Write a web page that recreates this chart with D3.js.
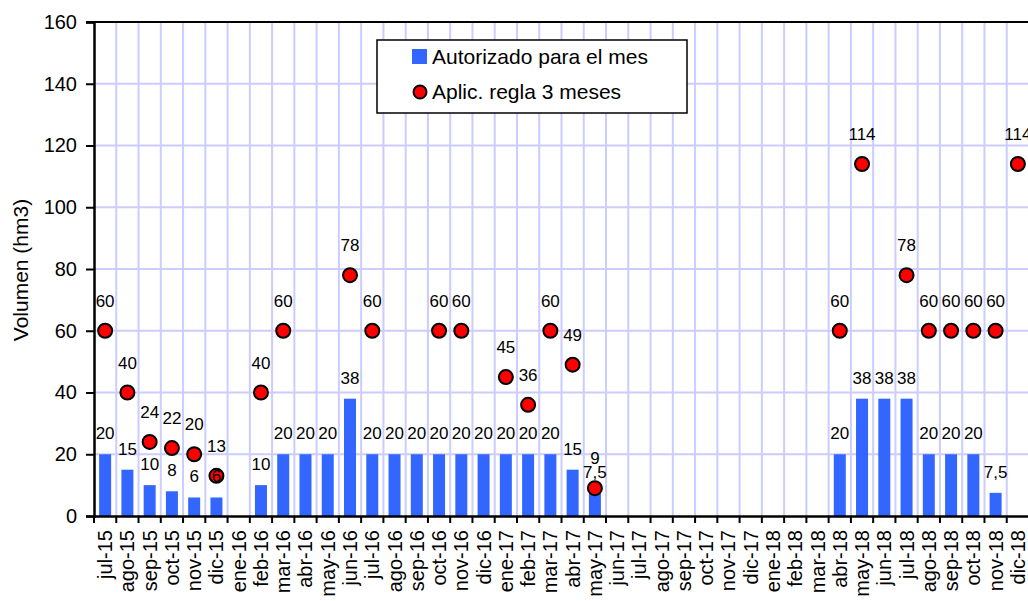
<!DOCTYPE html>
<html>
<head>
<meta charset="utf-8">
<script src="https://d3js.org/d3.v7.min.js"></script>
<style>
  body { margin: 0; background: #fff; }
  text { font-family: "Liberation Sans", Arial, sans-serif; fill: #000; }
</style>
</head>
<body>
<div id="chart"></div>
<script>
var months = ["jul-15","ago-15","sep-15","oct-15","nov-15","dic-15",
  "ene-16","feb-16","mar-16","abr-16","may-16","jun-16","jul-16","ago-16","sep-16","oct-16","nov-16","dic-16",
  "ene-17","feb-17","mar-17","abr-17","may-17","jun-17","jul-17","ago-17","sep-17","oct-17","nov-17","dic-17",
  "ene-18","feb-18","mar-18","abr-18","may-18","jun-18","jul-18","ago-18","sep-18","oct-18","nov-18","dic-18"];

// Autorizado para el mes (null = sin barra)
var autorizado = [20,15,10,8,6,6,
  null,10,20,20,20,38,20,20,20,20,20,20,
  20,20,20,15,7.5,null,null,null,null,null,null,null,
  null,null,null,20,38,38,38,20,20,20,7.5,null];

// Aplic. regla 3 meses
var regla3 = [60,40,24,22,20,13,
  null,40,60,null,null,78,60,null,null,60,60,null,
  45,36,60,49,9,null,null,null,null,null,null,null,
  null,null,null,60,114,null,78,60,60,60,60,114];

var yTicks = [0,20,40,60,80,100,120,140,160];

var margin = {top: 22, left: 94},
    width = 935,
    height = 494,
    svg = d3.select("#chart").append("svg").attr("width", 1028).attr("height", 601),
    g = svg.append("g").attr("transform", "translate(" + margin.left + "," + margin.top + ")");

var x = d3.scaleBand().domain(months).range([0, width]);
var y = d3.scaleLinear().domain([0, 160]).range([height, 0]);

var fmt = function(v) { return String(v).replace(".", ","); };

var bars = months.map(function(m, i) { return {m: m, v: autorizado[i]}; }).filter(function(d) { return d.v != null; });
var pts = months.map(function(m, i) { return {m: m, v: regla3[i]}; }).filter(function(d) { return d.v != null; });

// grid
g.append("g").selectAll("line")
  .data(yTicks.slice(1, -1))
  .enter().append("line")
    .attr("x1", 0).attr("x2", width)
    .attr("y1", function(d) { return y(d); }).attr("y2", function(d) { return y(d); })
    .attr("stroke", "#ccccff").attr("stroke-width", 2);

g.append("g").selectAll("line")
  .data(months.slice(1))
  .enter().append("line")
    .attr("x1", function(d) { return x(d); }).attr("x2", function(d) { return x(d); })
    .attr("y1", 0).attr("y2", height)
    .attr("stroke", "#ccccff").attr("stroke-width", 2);

// bars
var bw = 12;
g.append("g").selectAll("rect")
  .data(bars)
  .enter().append("rect")
    .attr("x", function(d) { return x(d.m) + x.bandwidth() / 2 - bw / 2; })
    .attr("y", function(d) { return y(d.v); })
    .attr("width", bw)
    .attr("height", function(d) { return height - y(d.v); })
    .attr("fill", "#3366ff");

// markers
g.append("g").selectAll("circle")
  .data(pts)
  .enter().append("circle")
    .attr("cx", function(d) { return x(d.m) + x.bandwidth() / 2; })
    .attr("cy", function(d) { return y(d.v); })
    .attr("r", 7)
    .attr("fill", "#ff0000")
    .attr("stroke", "#000")
    .attr("stroke-width", 2);

// labels
g.append("g").selectAll("text")
  .data(bars)
  .enter().append("text")
    .attr("x", function(d) { return x(d.m) + x.bandwidth() / 2; })
    .attr("y", function(d) { return y(d.v) - 15; })
    .attr("text-anchor", "middle")
    .attr("font-size", 17)
    .text(function(d) { return fmt(d.v); });

g.append("g").selectAll("text")
  .data(pts)
  .enter().append("text")
    .attr("x", function(d) { return x(d.m) + x.bandwidth() / 2; })
    .attr("y", function(d) { return y(d.v) - 24; })
    .attr("text-anchor", "middle")
    .attr("font-size", 17)
    .text(function(d) { return fmt(d.v); });

// axes
g.append("line").attr("x1", -8).attr("x2", width).attr("y1", 0).attr("y2", 0)
  .attr("stroke", "#000").attr("stroke-width", 2);

var yAxis = g.append("g")
  .call(d3.axisLeft(y).tickValues(yTicks).tickSize(8).tickPadding(9));
yAxis.select(".domain").attr("stroke-width", 2.5);
yAxis.selectAll(".tick line").attr("stroke-width", 2);
yAxis.selectAll("text").attr("font-size", 20).attr("font-family", "Liberation Sans, Arial, sans-serif");

var xAxis = g.append("g")
  .attr("transform", "translate(0," + height + ")")
  .call(d3.axisBottom(x).tickSize(0));
xAxis.select(".domain").attr("stroke-width", 2.5);
xAxis.selectAll("text")
  .attr("font-size", 20)
  .attr("font-family", "Liberation Sans, Arial, sans-serif")
  .attr("transform", "rotate(-90)")
  .attr("text-anchor", "end")
  .attr("x", -14)
  .attr("y", 0)
  .attr("dy", "0.35em");

xAxis.append("g").selectAll("line")
  .data(months)
  .enter().append("line")
    .attr("x1", function(d) { return x(d); }).attr("x2", function(d) { return x(d); })
    .attr("y1", 0).attr("y2", 7)
    .attr("stroke", "#000").attr("stroke-width", 2);

svg.append("text")
  .attr("transform", "translate(21,270) rotate(-90)")
  .attr("text-anchor", "middle")
  .attr("dy", "0.35em")
  .attr("font-size", 21)
  .text("Volumen (hm3)");

// legend
var legend = svg.append("g").attr("transform", "translate(377,40)");
legend.append("rect")
  .attr("width", 310).attr("height", 73)
  .attr("fill", "#fff").attr("stroke", "#000").attr("stroke-width", 1.5);
legend.append("rect")
  .attr("x", 35).attr("y", 9).attr("width", 15).attr("height", 15)
  .attr("fill", "#3366ff");
legend.append("text")
  .attr("x", 55).attr("y", 17).attr("dy", "0.35em")
  .attr("font-size", 21)
  .text("Autorizado para el mes");
legend.append("circle")
  .attr("cx", 43).attr("cy", 52).attr("r", 6.5)
  .attr("fill", "#ff0000").attr("stroke", "#000").attr("stroke-width", 2);
legend.append("text")
  .attr("x", 55).attr("y", 52).attr("dy", "0.35em")
  .attr("font-size", 21)
  .text("Aplic. regla 3 meses");
</script>
</body>
</html>
